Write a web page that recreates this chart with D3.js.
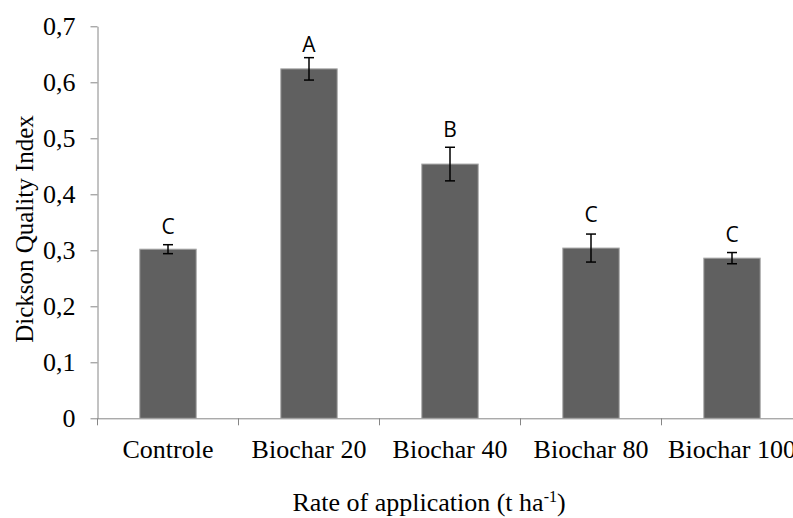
<!DOCTYPE html>
<html>
<head>
<meta charset="utf-8">
<script src="https://cdn.jsdelivr.net/npm/d3@7"></script>
<style>
  body { margin: 0; background: #fff; overflow: hidden; }
  svg { display: block; }
  .axis text { font-family: "Liberation Serif", "Times New Roman", serif; fill: #000; }
  .axis path, .axis line { stroke: #868686; }
</style>
</head>
<body>
<div id="chart"></div>
<script>
// data
var categories = ['Controle', 'Biochar 20', 'Biochar 40', 'Biochar 80', 'Biochar 100'];
var means = [0.302, 0.624, 0.454, 0.304, 0.286];
var errors = [0.008, 0.020, 0.030, 0.025, 0.010];
var letters = ['C', 'A', 'B', 'C', 'C'];
var letterAt = [0.330, 0.655, 0.503, 0.351, 0.314];
var yTicks = [0, 0.1, 0.2, 0.3, 0.4, 0.5, 0.6, 0.7];

var width = 793,
    height = 518;

var margin = { top: 26.3, left: 97.5, bottom: 418.3 };

var svg = d3.select('#chart').append('svg')
    .attr('width', width)
    .attr('height', height);

var x = d3.scaleBand()
    .domain(categories)
    .range([margin.left, margin.left + 141 * categories.length])
    .paddingInner(0)
    .paddingOuter(0);

var y = d3.scaleLinear()
    .domain([0, 0.7])
    .range([margin.bottom, margin.top]);

var barWidth = x.bandwidth() * 0.4;

// y axis
var yAxis = d3.axisLeft(y)
    .tickValues(yTicks)
    .tickSize(7)
    .tickSizeOuter(0)
    .tickPadding(15)
    .tickFormat(function (d) { return d3.format('.1~f')(d).replace('.', ','); });

svg.append('g')
    .attr('class', 'axis axis--y')
    .attr('transform', 'translate(' + margin.left + ',0)')
    .call(yAxis)
    .selectAll('text')
    .style('font-size', '26px');

// x axis: labels at band centres, ticks at band boundaries
var xAxis = d3.axisBottom(x).tickSize(0).tickSizeOuter(0);

var gx = svg.append('g')
    .attr('class', 'axis axis--x')
    .attr('transform', 'translate(0,' + margin.bottom + ')')
    .call(xAxis);

gx.selectAll('text')
    .style('font-size', '26px')
    .attr('y', 40)
    .attr('dy', 0);

var bounds = categories.map(function (d) { return x(d); })
    .concat([x(categories[categories.length - 1]) + x.bandwidth()]);

gx.selectAll('.bound')
    .data(bounds)
    .enter().append('line')
    .attr('class', 'bound')
    .attr('x1', function (d) { return d; })
    .attr('x2', function (d) { return d; })
    .attr('y1', 0)
    .attr('y2', 7);

// bars
svg.selectAll('.bar')
    .data(categories)
    .enter().append('rect')
    .attr('class', 'bar')
    .attr('x', function (d) { return x(d) + (x.bandwidth() - barWidth) / 2; })
    .attr('y', function (d, i) { return y(means[i]); })
    .attr('width', barWidth)
    .attr('height', function (d, i) { return y(0) - y(means[i]); })
    .attr('fill', '#606060')
    .attr('stroke', '#a6a6a6')
    .attr('stroke-width', 1);

// error bars
var err = svg.selectAll('.err')
    .data(categories)
    .enter().append('g')
    .attr('class', 'err')
    .attr('transform', function (d) { return 'translate(' + (x(d) + x.bandwidth() / 2) + ',0)'; })
    .attr('stroke', '#000')
    .attr('stroke-width', 1.5);

err.append('line')
    .attr('y1', function (d, i) { return y(means[i] + errors[i]); })
    .attr('y2', function (d, i) { return y(means[i] - errors[i]); });

err.append('line')
    .attr('x1', -5).attr('x2', 5)
    .attr('y1', function (d, i) { return y(means[i] + errors[i]); })
    .attr('y2', function (d, i) { return y(means[i] + errors[i]); });

err.append('line')
    .attr('x1', -5).attr('x2', 5)
    .attr('y1', function (d, i) { return y(means[i] - errors[i]); })
    .attr('y2', function (d, i) { return y(means[i] - errors[i]); });

// significance letters
svg.selectAll('.letter')
    .data(categories)
    .enter().append('text')
    .attr('class', 'letter')
    .attr('x', function (d) { return x(d) + x.bandwidth() / 2; })
    .attr('y', function (d, i) { return y(letterAt[i]); })
    .attr('text-anchor', 'middle')
    .style('font-family', '"Open Sans", sans-serif')
    .style('font-size', '21px')
    .text(function (d, i) { return letters[i]; });

// axis titles
var xTitle = svg.append('text')
    .attr('x', 429)
    .attr('y', 511)
    .attr('text-anchor', 'middle')
    .style('font-family', '"Liberation Serif", serif')
    .style('font-size', '26px');

xTitle.append('tspan').text('Rate of application (t ha');
xTitle.append('tspan').attr('dy', -9).style('font-size', '16px').text('-1');
xTitle.append('tspan').attr('dy', 9).text(')');

svg.append('text')
    .attr('transform', 'translate(33,229) rotate(-90)')
    .attr('text-anchor', 'middle')
    .style('font-family', '"Liberation Serif", serif')
    .style('font-size', '25px')
    .text('Dickson Quality Index');
</script>
</body>
</html>
